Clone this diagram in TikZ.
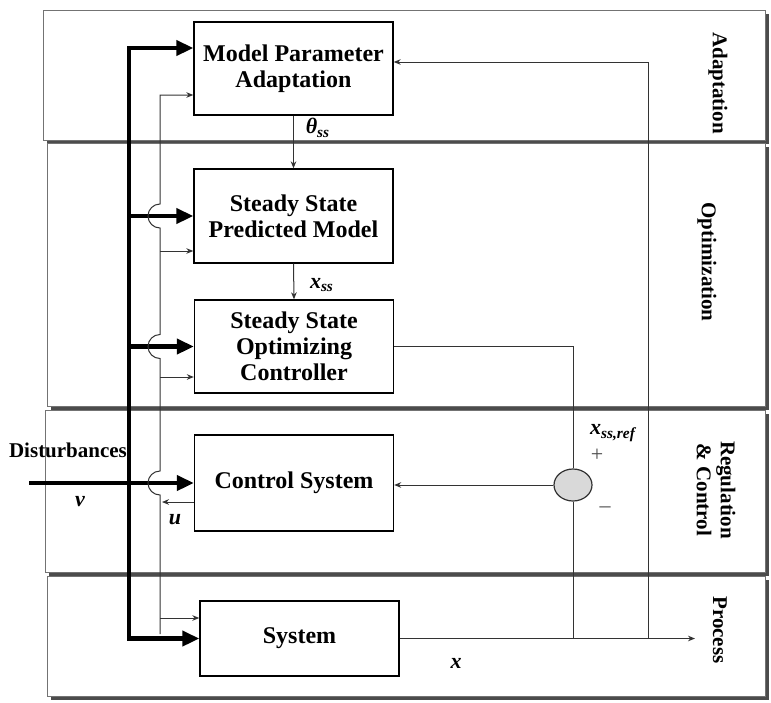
\documentclass[tikz,border=0pt]{standalone}
\usepackage{fontspec}
\setmainfont{Liberation Serif}
\usetikzlibrary{arrows.meta,calc,shapes.geometric,shadows}
\tikzset{
  bandbox/.style={draw=black!55, line width=0.4pt, fill=white, inner sep=0pt, outer sep=0pt,
                  anchor=north west,
                  drop shadow={shadow xshift=2pt, shadow yshift=-2pt, fill=black!70, opacity=1}},
  blockbox/.style={draw=black, line width=0.7pt, fill=white, align=center,
                   font=\fontsize{12}{13}\selectfont\bfseries, minimum width=99.5pt, inner sep=2pt},
  sig/.style={line width=0.5pt, black!80},
  sigarrow/.style={sig, -{Stealth[length=3.5pt,width=2.8pt]}},
  bus/.style={line width=2.2pt, line join=miter},
  busarrow/.style={bus, -{Triangle[length=8.5pt,width=7.5pt]}},
  bandlabel/.style={rotate=-90, font=\fontsize{10.5}{12}\selectfont\bfseries, align=center},
  varlabel/.style={font=\fontsize{11}{12}\selectfont\bfseries\itshape, inner sep=1pt},
  sumnode/.style={ellipse, draw=black!80, line width=0.6pt, fill=black!15,
                  minimum width=19pt, minimum height=16pt, inner sep=0pt},
}
\begin{document}
\begin{tikzpicture}[x=0.5pt, y=-0.5pt]
  \useasboundingbox (0,0) rectangle (771,702);

  % Layers
  \node[bandbox, minimum width=361pt, minimum height=65pt] (bAdapt) at (43,10) {};
  \node[bandbox, minimum width=359pt, minimum height=131.5pt] (bOpt) at (47,143) {};
  \node[bandbox, minimum width=360pt, minimum height=81pt] (bReg) at (45,410) {};
  \node[bandbox, minimum width=359pt, minimum height=60pt] (bProc) at (47,576) {};

  \node[bandlabel] (lAdapt) at (718,83) {Adaptation};
  \node[bandlabel] (lOpt) at (707,262) {Optimization};
  \node[bandlabel] (lReg) at (716,490) {Regulation\\\& Control};
  \node[bandlabel] (lProc) at (720,630) {Process};

  % Blocks
  \node[blockbox, minimum height=46.5pt] (mpa) at (293.5,68.5) {Model Parameter\\Adaptation};
  \node[blockbox, minimum height=47pt] (sspm) at (293.5,216) {Steady State\\Predicted Model};
  \node[blockbox, minimum height=46.5pt] (ssoc) at (294,346.5) {Steady State\\Optimizing\\Controller};
  \node[blockbox, minimum height=48pt] (ctrl) at (294,483) {Control System};
  \node[blockbox, minimum height=37.5pt] (sys) at (299.5,638.5) {System};
  \node[sumnode] (sum) at (573,485) {};

  % Points
  \coordinate (busTop) at (129,48);
  \coordinate (distIn) at (29,483);
  \coordinate (uTop) at (160,95);
  \coordinate (uBot) at (160,634);
  \coordinate (uSspm) at (160,251);
  \coordinate (uSsoc) at (160,377);
  \coordinate (uSys) at (160,618);
  \coordinate (uOut) at (162,502);
  \coordinate (fbTop) at (648,62);
  \coordinate (xEnd) at (695,638);

  % Labels
  \node[font=\fontsize{10.5}{12}\selectfont\bfseries] (dist) at (68,450) {Disturbances};
  \node[varlabel] (vLab) at (80,502) {v};
  \node[varlabel] (uLab) at (175,520) {u};
  \node[varlabel] (thLab) at (318,128) {θ\textsubscript{ss}};
  \node[varlabel] (xssLab) at (322,285) {x\textsubscript{ss}};
  \node[varlabel] (refLab) at (613,433) {x\textsubscript{ss,ref}};
  \node[font=\fontsize{11}{12}\selectfont, text=black!70] (plus) at (597,455) {+};
  \node[font=\fontsize{11}{12}\selectfont, text=black!70] (minus) at (605,510) {\textendash};
  \node[varlabel] (xLab) at (456,663) {x};

  % Disturbance bus
  \draw[bus, {Triangle[length=8.5pt,width=7.5pt]}-{Triangle[length=8.5pt,width=7.5pt]}]
    (busTop -| mpa.west) -- (busTop) -- (busTop |- sys.west) -- (sys.west);
  \draw[busarrow] (distIn) -- (ctrl.west);
  \draw[busarrow] (busTop |- sspm) -- (sspm.west);
  \draw[busarrow] (busTop |- ssoc) -- (ssoc.west);

  % Manipulated variable u
  \draw[sig, {Stealth[length=3.5pt,width=2.8pt]}-] (uTop -| mpa.west) -- (uTop)
    -- ($(uTop |- sspm)+(0,6pt)$) arc[start angle=90, end angle=270, radius=6pt]
    -- ($(uTop |- ssoc)+(0,6pt)$) arc[start angle=90, end angle=270, radius=6pt]
    -- ($(uTop |- ctrl)+(0,6pt)$) arc[start angle=90, end angle=270, radius=6pt]
    -- (uBot);
  \draw[sigarrow] (uSspm) -- (uSspm -| sspm.west);
  \draw[sigarrow] (uSsoc) -- (uSsoc -| ssoc.west);
  \draw[sigarrow] (uSys) -- (uSys -| sys.west);
  \draw[sigarrow] (uOut -| ctrl.west) -- (uOut);

  % Model chain
  \draw[sigarrow] (mpa.south) -- (sspm.north);
  \draw[sigarrow] (sspm.south) -- (ssoc.north);
  \draw[sig] (ssoc.east) -| (sum.north);
  \draw[sigarrow] (sum.west) -- (sum.west -| ctrl.east);

  % Measured output x
  \draw[sigarrow] (sys.east) -- (sys.east -| xEnd);
  \draw[sig] (sum.south) -- (sum.south |- sys.east);
  \draw[sigarrow] (sys.east -| fbTop) -- (fbTop) -- (fbTop -| mpa.east);
\end{tikzpicture}
\end{document}
